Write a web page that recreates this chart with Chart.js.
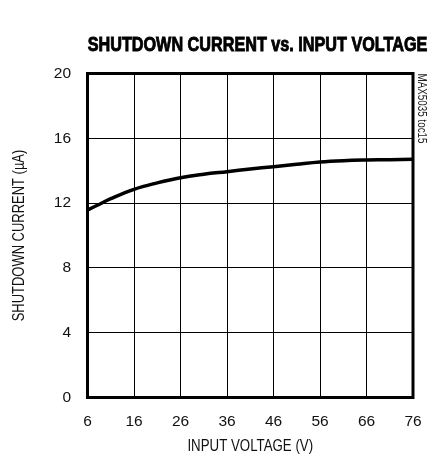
<!DOCTYPE html>
<html>
<head>
<meta charset="utf-8">
<script src="https://cdn.jsdelivr.net/npm/chart.js@4/dist/chart.umd.min.js"></script>
<style>
  html, body { margin: 0; padding: 0; background: #fff; }
  #wrap { width: 432px; height: 457px; }
</style>
</head>
<body>
<div id="wrap"><canvas id="chart" width="432" height="457"></canvas></div>
<script>
// data
const inputVoltage = [6, 8, 11, 16, 21, 26, 31, 36, 41, 46, 51, 56, 61, 66, 71, 76];
const shutdownCurrent = [11.57, 11.85, 12.27, 12.85, 13.25, 13.57, 13.78, 13.94, 14.1, 14.25, 14.4, 14.54, 14.62, 14.66, 14.68, 14.7];
const xTicks = [6, 16, 26, 36, 46, 56, 66, 76];
const yTicks = [0, 4, 8, 12, 16, 20];

const chartTitle = 'SHUTDOWN CURRENT vs. INPUT VOLTAGE';
const xTitle = 'INPUT VOLTAGE (V)';
const yTitle = 'SHUTDOWN CURRENT (µA)';
const sideNote = 'MAX5035 toc15';
const FONT = '"Liberation Sans", Arial, sans-serif';

// the reference uses a condensed face, so squeeze a normal one
function narrowText(ctx, text, x, y, angle, sx, font, color, align) {
    ctx.save();
    ctx.translate(x, y);
    ctx.rotate(angle);
    ctx.scale(sx, 1);
    ctx.font = font;
    ctx.fillStyle = color;
    ctx.textAlign = align;
    ctx.textBaseline = 'middle';
    ctx.fillText(text, 0, 0);
    ctx.restore();
}

// frame, title, axis titles and side note
const decor = {
    id: 'decor',
    afterDraw(chart) {
        const ctx = chart.ctx;
        const a = chart.chartArea;
        ctx.save();
        ctx.strokeStyle = '#000';
        ctx.lineWidth = 3;
        ctx.strokeRect(a.left, a.top, a.right - a.left, a.bottom - a.top);
        ctx.restore();

        ctx.save();
        ctx.translate(257.5, 45);
        ctx.scale(0.81, 1);
        ctx.font = 'bold 20px ' + FONT;
        ctx.textAlign = 'center';
        ctx.textBaseline = 'middle';
        ctx.fillStyle = '#000';
        ctx.strokeStyle = '#000';
        ctx.lineWidth = 0.9;
        ctx.fillText(chartTitle, 0, 0);
        ctx.strokeText(chartTitle, 0, 0);
        ctx.restore();

        const cx = (a.left + a.right) / 2;
        const cy = (a.top + a.bottom) / 2;
        narrowText(ctx, xTitle, cx, 447, 0, 0.83, '16px ' + FONT, '#111', 'center');
        narrowText(ctx, yTitle, 20, cy, -Math.PI / 2, 0.81, '16px ' + FONT, '#111', 'center');
        narrowText(ctx, sideNote, 421, a.top, Math.PI / 2, 0.82, '12px ' + FONT, '#222', 'left');
    }
};

new Chart(document.getElementById('chart'), {
    type: 'line',
    data: {
        datasets: [{
            data: inputVoltage.map((v, i) => ({ x: v, y: shutdownCurrent[i] })),
            borderColor: '#000',
            borderWidth: 3.5,
            tension: 0.4,
            pointRadius: 0,
            fill: false
        }]
    },
    options: {
        responsive: false,
        animation: false,
        devicePixelRatio: 1,
        layout: { padding: { left: 0, top: 73.5, right: 19, bottom: 0 } },
        plugins: { legend: { display: false }, tooltip: { enabled: false } },
        scales: {
            x: {
                type: 'linear',
                min: 6,
                max: 76,
                afterBuildTicks: s => { s.ticks = xTicks.map(v => ({ value: v })); },
                afterFit: s => { s.height = 59.5; s.paddingLeft = 0; s.paddingRight = 0; },
                grid: { color: '#000', lineWidth: 1, drawTicks: false },
                border: { display: false },
                ticks: { color: '#111', padding: 15, font: { family: FONT, size: 15.5 } },
                title: { display: false }
            },
            y: {
                min: 0,
                max: 20,
                afterBuildTicks: s => { s.ticks = yTicks.map(v => ({ value: v })); },
                afterFit: s => { s.width = 87.5; },
                grid: { color: '#000', lineWidth: 1, drawTicks: false },
                border: { display: false },
                ticks: { color: '#111', padding: 16.5, font: { family: FONT, size: 15.5 } },
                title: { display: false }
            }
        }
    },
    plugins: [decor]
});
</script>
</body>
</html>
